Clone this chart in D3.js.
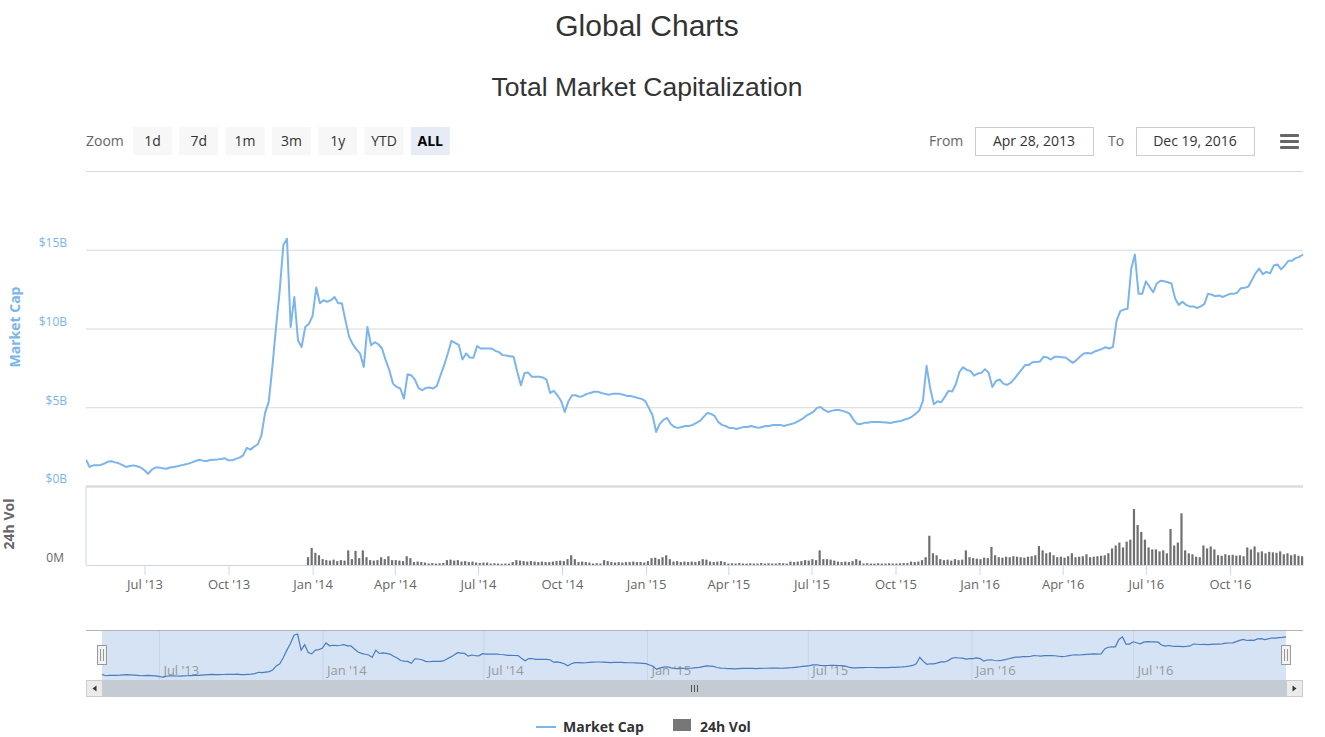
<!DOCTYPE html>
<html>
<head>
<meta charset="utf-8">
<script src="https://cdn.jsdelivr.net/npm/d3@7"></script>
<style>
  body { margin: 0; background: #fff; }
  svg { display: block; font-family: "Open Sans", Arial, sans-serif; }
</style>
</head>
<body>
<svg id="chart" width="1325" height="737"></svg>
<script>
// total market cap in $B, one reading every 4 days starting Apr 28, 2013
const capStart = "2013-04-28";
const capStepDays = 4;
const capValues = [
  1.67,1.21,1.31,1.31,1.33,1.42,1.55,1.57,1.50,1.44,
  1.33,1.21,1.27,1.31,1.25,1.17,1.00,0.78,1.04,1.17,
  1.17,1.12,1.10,1.17,1.21,1.25,1.31,1.36,1.42,1.50,
  1.59,1.67,1.61,1.59,1.65,1.67,1.69,1.72,1.76,1.63,
  1.63,1.72,1.80,1.95,2.42,2.31,2.50,2.65,3.22,4.64,
  5.34,7.56,10.1,12.4,15.3,15.7,10.1,12.0,9.26,8.83,
  10.1,10.3,10.8,12.6,11.6,11.8,11.7,11.8,12.0,11.6,
  11.6,10.5,9.47,9.00,8.67,8.41,7.56,10.1,8.94,9.13,
  9.00,8.73,7.99,7.35,6.50,6.29,6.19,5.55,7.10,7.03,
  6.76,6.21,6.08,6.23,6.25,6.19,6.36,7.03,7.67,8.41,
  9.22,9.09,8.96,8.03,8.41,8.16,8.14,8.88,8.73,8.73,
  8.73,8.73,8.58,8.50,8.31,8.28,8.24,8.20,7.25,6.40,
  7.18,7.20,6.93,6.93,6.93,6.89,6.76,5.91,6.04,5.76,
  5.40,4.70,5.38,5.76,5.76,5.66,5.72,5.85,5.91,5.98,
  5.98,5.91,5.85,5.79,5.85,5.85,5.85,5.79,5.72,5.72,
  5.66,5.59,5.53,5.40,4.96,4.51,3.43,3.94,4.20,4.32,
  3.94,3.75,3.69,3.75,3.81,3.81,3.88,4.01,4.13,4.39,
  4.64,4.58,4.45,4.07,3.88,3.81,3.69,3.69,3.62,3.69,
  3.75,3.75,3.81,3.75,3.69,3.75,3.81,3.81,3.88,3.88,
  3.88,3.81,3.88,3.94,4.01,4.13,4.26,4.45,4.58,4.70,
  4.96,5.02,4.83,4.70,4.77,4.83,4.83,4.77,4.70,4.58,
  4.20,3.94,3.94,4.01,4.01,4.07,4.07,4.07,4.05,4.03,
  4.00,4.05,4.09,4.13,4.22,4.28,4.41,4.58,4.79,5.40,
  7.63,6.19,5.19,5.38,5.32,5.66,6.04,6.00,6.46,7.25,
  7.54,7.37,7.31,7.01,7.14,7.18,7.42,7.18,6.29,6.67,
  6.76,6.50,6.42,6.55,6.80,7.10,7.39,7.69,7.69,7.86,
  7.88,7.90,8.20,8.16,8.03,8.20,8.20,8.18,8.16,7.99,
  7.82,7.99,8.22,8.41,8.45,8.41,8.54,8.62,8.71,8.81,
  8.73,8.83,10.5,11.1,11.2,11.25,13.8,14.7,12.2,12.2,
  13.0,12.65,12.3,12.86,13.03,13.0,12.94,12.86,11.9,11.5,
  11.7,11.5,11.4,11.4,11.3,11.4,11.55,12.2,12.15,12.05,
  12.1,12.0,12.1,12.2,12.2,12.27,12.56,12.58,12.65,13.07,
  13.5,13.8,13.45,13.6,13.5,14.0,14.07,13.75,14.0,14.3,
  14.3,14.47,14.55,14.7
];

// 24h volume in $M, one reading every 4 days starting Dec 27, 2013
const volStart = "2013-12-27";
const volStepDays = 4;
const volValues = [
  80,175,125,100,60, 50,45,55,40,50,45, 150,60,145,70,150,80, 50,45,50,
  80,60,90,50, 50,45,40, 90,70, 30,35,30,25, 15,20,15,18,20, 50,55,45,50,
  35,40,30,35, 25,20,25,25, 15,18,15,12,15,15, 30,50,45, 40,35,40,35,
  30,35,30,30,35, 40,45,40,60, 100,60, 30,35,30,25, 15,18,15,50, 40,30,25,
  30,25,30,30,35,30,30,25, 40,70,75,60, 80,100,60, 35,40,30,35,30,35,30,
  40,60,55, 35,30,35,40,30,
  15,18,15,20,15,15,18,15,15,20,15,18,15,15,20,18,15,
  35,30,35,40, 50,45,60,50, 150,60, 60,55,45, 35,30,35,30, 40,60,45,
  15,18,15,15,18,15,15,18,15,15,18,20,20, 35,30,35, 50,80, 300, 120, 100,60,
  50,55,45,60,50,55, 150,80, 70,65,60,75,70, 185, 100,
  80,75,85,80,90,85,80,75,85, 90,100, 195, 150,120, 130,100,
  80,85,75,90,120,80,85,90,110,80,85,90,95, 100,120, 170,
  200,230,180,240, 260, 575, 410, 340, 260, 180,160, 160,140, 150, 120,
  370, 200, 230, 530, 150, 120,110, 85,80, 200,170,190,160,
  100,95,110,100,105,95,100,90, 180,160,190,
  130,140,120,135,130,125,140, 110,120,100,110,95,90
];

const capTicks = [0, 5, 10, 15];
const capGrid = [0, 5, 10, 15, 20];
const zoomButtons = ["1d", "7d", "1m", "3m", "1y", "YTD", "ALL"];
const selectedZoom = "ALL";
const fromText = "Apr 28, 2013";
const toText = "Dec 19, 2016";

const svg = d3.select("#chart");
const parse = d3.utcParse("%Y-%m-%d");

const capData = capValues.map((v, i) => ({
  date: d3.utcDay.offset(parse(capStart), i * capStepDays), value: v
}));
const volData = volValues.map((v, i) => ({
  date: d3.utcDay.offset(parse(volStart), i * volStepDays), value: v
}));

// layout
const left = 86, right = 1303;
const capTop = 171, capBottom = 486;
const volTop = 487, volBottom = 565;
const navLeft = 102, navRight = 1286, navTop = 630, navBottom = 680;
const scrollBottom = 697;

const x = d3.scaleUtc().domain(d3.extent(capData, d => d.date)).range([left, right]);
const yCap = d3.scaleLinear().domain([0, 20]).range([capBottom, capTop]);
const yVol = d3.scaleLinear().domain([0, 800]).range([volBottom, volTop]);

// headings
svg.append("text")
  .attr("x", 647).attr("y", 36)
  .attr("text-anchor", "middle")
  .style("font-family", "'Liberation Sans', Arial, sans-serif")
  .style("font-size", "30px").attr("fill", "#333")
  .text("Global Charts");
svg.append("text")
  .attr("x", 647).attr("y", 96)
  .attr("text-anchor", "middle")
  .style("font-family", "'Liberation Sans', Arial, sans-serif")
  .style("font-size", "26.5px").attr("fill", "#333")
  .text("Total Market Capitalization");

// range selector
svg.append("text").attr("x", 86).attr("y", 146)
  .style("font-size", "14px").attr("fill", "#666").text("Zoom");
const btn = svg.append("g").selectAll("g").data(zoomButtons).enter().append("g")
  .attr("transform", (d, i) => "translate(" + (133 + i * 46.3) + ",127)");
btn.append("rect").attr("width", 39).attr("height", 28)
  .attr("fill", d => d === selectedZoom ? "#e6ebf5" : "#f7f7f7");
btn.append("text").attr("x", 19.5).attr("y", 18.5).attr("text-anchor", "middle")
  .style("font-size", "14px")
  .style("font-weight", d => d === selectedZoom ? "bold" : "normal")
  .attr("fill", d => d === selectedZoom ? "#000" : "#333")
  .text(d => d);

svg.append("text").attr("x", 929).attr("y", 146).style("font-size", "14px").attr("fill", "#666").text("From");
svg.append("text").attr("x", 1108).attr("y", 146).style("font-size", "14px").attr("fill", "#666").text("To");
[[975, fromText], [1136, toText]].forEach(b => {
  svg.append("rect").attr("x", b[0] + 0.5).attr("y", 127.5).attr("width", 118).attr("height", 28)
    .attr("fill", "#fff").attr("stroke", "#ccc");
  svg.append("text").attr("x", b[0] + 59).attr("y", 146).attr("text-anchor", "middle")
    .style("font-size", "14px").attr("fill", "#333").text(b[1]);
});
// export menu icon
[134, 140, 146].forEach(yy => {
  svg.append("rect").attr("x", 1280).attr("y", yy).attr("width", 19).attr("height", 3)
    .attr("rx", 1).attr("fill", "#666");
});

// grid + y axis (market cap)
svg.append("g").attr("transform", "translate(" + left + ",0)")
  .call(d3.axisLeft(yCap).tickValues(capGrid).tickSize(-(right - left)).tickFormat(""))
  .call(g => g.select(".domain").remove())
  .call(g => g.selectAll("line").attr("stroke", "#d9d9d9"));

svg.append("g").attr("transform", "translate(" + left + ",0)")
  .call(d3.axisLeft(yCap).tickValues(capTicks).tickSize(0).tickPadding(19)
    .tickFormat(d => "$" + d + "B"))
  .call(g => g.select(".domain").remove())
  .call(g => g.selectAll("text").attr("y", -7).attr("fill", "#7cb5ec")
    .style("font-size", "12px").style("font-family", "'Open Sans', Arial, sans-serif"));

svg.append("text")
  .attr("transform", "translate(20,327) rotate(-90)")
  .attr("text-anchor", "middle")
  .style("font-size", "14px").style("font-weight", "bold")
  .attr("fill", "#7cb5ec").text("Market Cap");

// volume pane frame
svg.append("line").attr("x1", left).attr("x2", right).attr("y1", 486.5).attr("y2", 486.5)
  .attr("stroke", "#dcdcdc").attr("stroke-width", 2.5);

svg.append("g").attr("transform", "translate(" + left + ",0)")
  .call(d3.axisLeft(yVol).tickValues([0]).tickSize(0).tickPadding(22).tickFormat(() => "0M"))
  .call(g => g.select(".domain").attr("stroke", "#ccd6eb").attr("d", "M0," + volTop + "V" + volBottom))
  .call(g => g.selectAll("text").attr("y", -7).attr("fill", "#666")
    .style("font-size", "12px").style("font-family", "'Open Sans', Arial, sans-serif"));

svg.append("text")
  .attr("transform", "translate(14,524) rotate(-90)")
  .attr("text-anchor", "middle")
  .style("font-size", "14px").style("font-weight", "bold")
  .attr("fill", "#666").text("24h Vol");

// clip
svg.append("clipPath").attr("id", "plotClip").append("rect")
  .attr("x", left).attr("y", capTop - 5).attr("width", right - left + 2).attr("height", capBottom - capTop + 5);

// volume bars
const barW = x(d3.utcDay.offset(parse(volStart), volStepDays)) - x(parse(volStart));
svg.append("g").selectAll("rect").data(volData).enter().append("rect")
  .attr("x", d => x(d.date) - barW * 0.3)
  .attr("width", barW * 0.6)
  .attr("y", d => yVol(d.value))
  .attr("height", d => volBottom - yVol(d.value))
  .attr("fill", "#707070");

// x axis
svg.append("g").attr("transform", "translate(0," + volBottom + ")")
  .call(d3.axisBottom(x).ticks(d3.utcMonth.every(3)).tickFormat(d3.utcFormat("%b '%y"))
    .tickSize(10).tickPadding(5).tickSizeOuter(0))
  .call(g => g.select(".domain").attr("stroke", "#ccd6eb"))
  .call(g => g.selectAll(".tick line").attr("stroke", "#ccd6eb"))
  .call(g => g.selectAll("text").attr("fill", "#666")
    .style("font-size", "13px").style("font-family", "'Open Sans', Arial, sans-serif"));

// market cap line
svg.append("path").datum(capData)
  .attr("clip-path", "url(#plotClip)")
  .attr("fill", "none").attr("stroke", "#7cb5ec").attr("stroke-width", 2)
  .attr("stroke-linejoin", "round")
  .attr("d", d3.line().x(d => x(d.date)).y(d => yCap(d.value)));

// navigator
const xNav = d3.scaleUtc().domain(x.domain()).range([navLeft, navRight]);
const yNav = d3.scaleLinear().domain(d3.extent(capValues)).range([677, 634]);

svg.append("rect").attr("x", navLeft).attr("y", navTop).attr("width", navRight - navLeft)
  .attr("height", navBottom - navTop).attr("fill", "#d5e3f4");

svg.append("g").attr("transform", "translate(0," + navTop + ")")
  .call(d3.axisBottom(xNav).ticks(d3.utcMonth.every(6)).tickFormat(d3.utcFormat("%b '%y"))
    .tickSize(navBottom - navTop).tickPadding(0))
  .call(g => g.select(".domain").remove())
  .call(g => g.selectAll(".tick line").attr("stroke", "#c4d4ea"))
  .call(g => g.selectAll("text").attr("text-anchor", "start").attr("x", 4).attr("y", 45).attr("dy", 0)
    .attr("fill", "#999").style("font-size", "13px").style("font-family", "'Open Sans', Arial, sans-serif"));

svg.append("path").datum(capData)
  .attr("fill", "none").attr("stroke", "#4a7dbd").attr("stroke-width", 1.2)
  .attr("d", d3.line().x(d => xNav(d.date)).y(d => yNav(d.value)));

svg.append("line").attr("x1", left).attr("x2", right).attr("y1", navTop + 0.5).attr("y2", navTop + 0.5)
  .attr("stroke", "#b3b3b3");

// handles
[navLeft, navRight].forEach(hx => {
  svg.append("rect").attr("x", hx - 4.5).attr("y", 645.5).attr("width", 9).attr("height", 19)
    .attr("fill", "#f2f2f2").attr("stroke", "#999");
  [-1.5, 1.5].forEach(o => svg.append("line").attr("x1", hx + o).attr("x2", hx + o)
    .attr("y1", 649).attr("y2", 661).attr("stroke", "#999"));
});

// scrollbar
svg.append("rect").attr("x", navLeft).attr("y", navBottom).attr("width", navRight - navLeft)
  .attr("height", scrollBottom - navBottom).attr("fill", "#c5cbd2");
const midX = Math.round((navLeft + navRight) / 2) + 0.5;
[-3, 0, 3].forEach(o => svg.append("line").attr("x1", midX + o).attr("x2", midX + o)
  .attr("y1", 685).attr("y2", 692).attr("stroke", "#555"));
[[left, -1], [navRight, 1]].forEach(b => {
  svg.append("rect").attr("x", b[0] + 0.5).attr("y", navBottom + 0.5).attr("width", 16)
    .attr("height", scrollBottom - navBottom - 1).attr("fill", "#ebebeb").attr("stroke", "#ccc");
  const cx = b[0] + 8.5, cy = (navBottom + scrollBottom) / 2;
  svg.append("path").attr("fill", "#333")
    .attr("d", "M" + (cx + 2 * b[1]) + "," + cy + "L" + (cx - 2 * b[1]) + "," + (cy - 3) + "L" + (cx - 2 * b[1]) + "," + (cy + 3) + "Z");
});

// legend
svg.append("line").attr("x1", 536).attr("x2", 556).attr("y1", 727).attr("y2", 727)
  .attr("stroke", "#7cb5ec").attr("stroke-width", 2);
svg.append("text").attr("x", 563).attr("y", 732).style("font-size", "14px")
  .style("font-weight", "bold").attr("fill", "#333").text("Market Cap");
svg.append("rect").attr("x", 673).attr("y", 719).attr("width", 18).attr("height", 12).attr("fill", "#777");
svg.append("text").attr("x", 700).attr("y", 732).style("font-size", "14px")
  .style("font-weight", "bold").attr("fill", "#333").text("24h Vol");
</script>
</body>
</html>
